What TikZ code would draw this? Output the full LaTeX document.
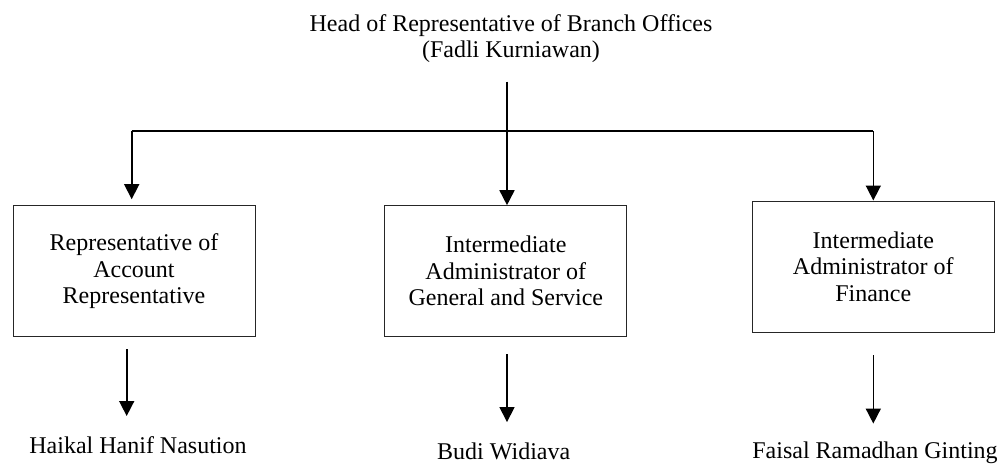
\documentclass[tikz,border=0pt]{standalone}
\usepackage{fontspec}
\setmainfont{Liberation Serif}
\usetikzlibrary{arrows.meta,calc}
\begin{document}
\begin{tikzpicture}[x=1pt,y=-1pt,
  txt/.style={font=\fontsize{24}{26.5}\selectfont,inner sep=0pt,align=center},
  unitbox/.style={txt,draw=black!85,line width=1pt,minimum width=242pt,minimum height=131pt},
  conn/.style={line width=1.6pt,black},
  arr/.style={conn,-{Triangle[width=15pt,length=15pt]}}]
\useasboundingbox (0,0) rectangle (1000,465);
% title
\node[txt] (head) at (511,38.5) {Head of Representative of Branch Offices\\(Fadli Kurniawan)};
% boxes
\node[unitbox] (b1) at (134,271.2) {Representative of\\Account\\Representative};
\node[unitbox] (b2) at (505.8,271.2) {Intermediate\\Administrator of\\General and Service};
\node[unitbox] (b3) at (873.3,266.5) {Intermediate\\Administrator of\\Finance};
% names
\node[txt,anchor=base] (n1) at (138,453) {Haikal Hanif Nasution};
\node[txt,anchor=base] (n2) at (503.7,459.3) {Budi Widiava};
\node[txt,anchor=base] (n3) at (875,458) {Faisal Ramadhan Ginting};
% top connectors
\coordinate (j) at (507,131);
\coordinate (l1) at (131.7,131);
\coordinate (r1) at (873.3,131);
\coordinate (hs) at (507,81.7);
\draw[conn] (l1) -- (r1);
\draw[arr] (hs) -- (j |- b2.north);
\draw[arr,shorten >=6pt] (l1) -- (l1 |- b1.north);
\draw[arr] (r1) -- (r1 |- b3.north);
% lower connectors
\coordinate (s1) at (126.7,349);
\coordinate (s2) at (507,354);
\coordinate (s3) at (873.3,355);
\draw[arr] (s1) -- ($(s1 |- n1.north)+(0,-19.9)$);
\draw[arr] (s2) -- ($(s2 |- n2.north)+(0,-20.4)$);
\draw[arr] (s3) -- ($(s3 |- n3.north)+(0,-17.6)$);
\end{tikzpicture}
\end{document}
